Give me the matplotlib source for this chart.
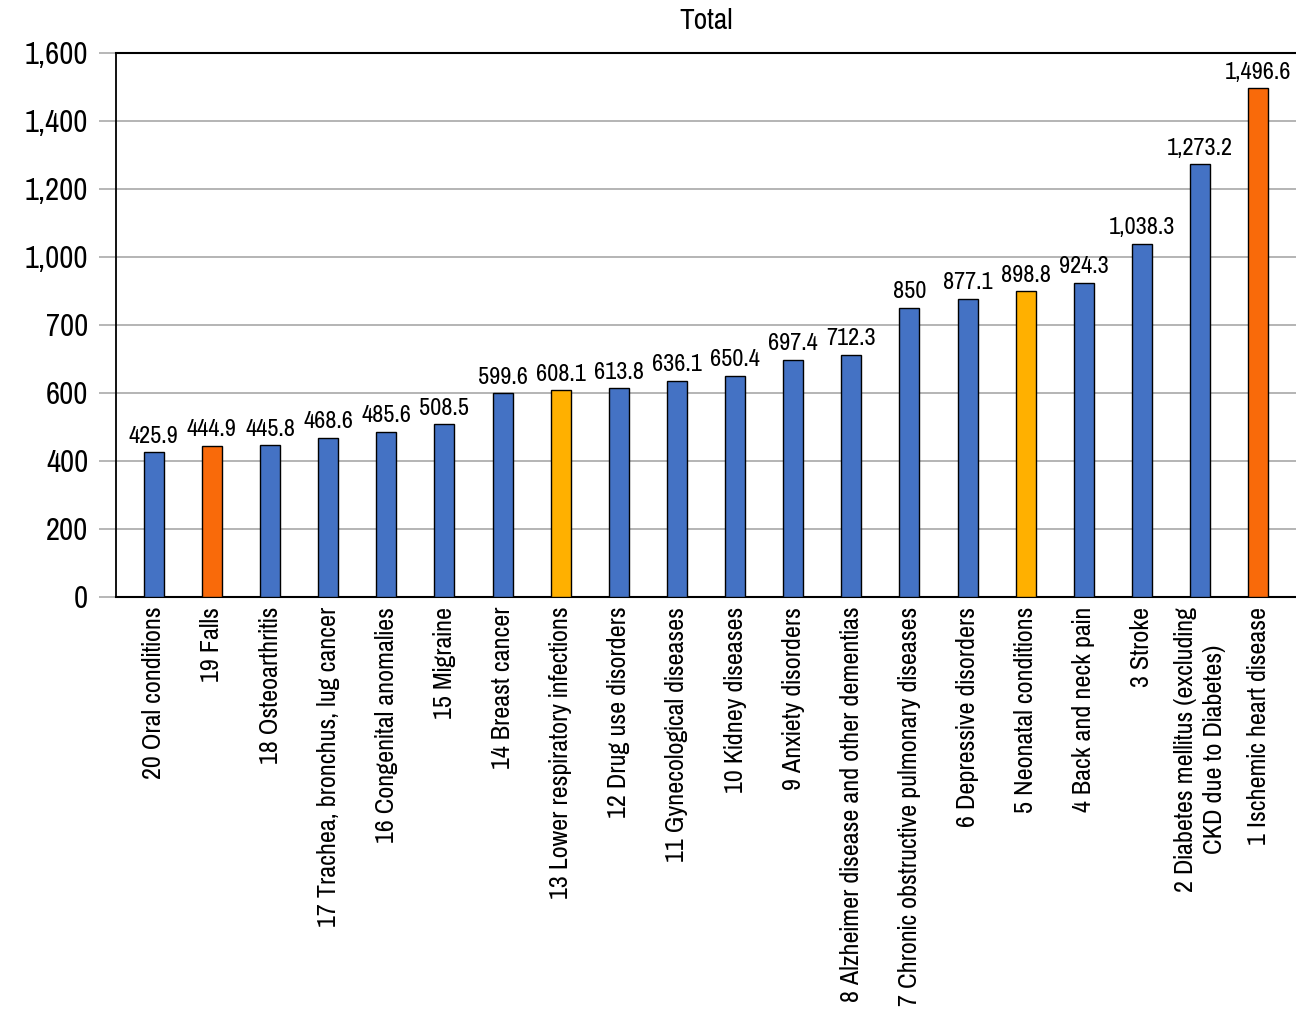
import matplotlib
matplotlib.use("Agg")
import matplotlib.pyplot as plt
from matplotlib import font_manager

names = {f.name for f in font_manager.fontManager.ttflist}
preferred = ['Nimbus Sans Narrow', 'Arial Narrow', 'Liberation Sans Narrow', 'Pragati Narrow',
             'Roboto Condensed', 'Archivo Narrow', 'IBM Plex Sans Condensed']
chosen = [n for n in preferred if n in names][:1]
plt.rcParams['font.family'] = chosen + ['DejaVu Sans']

categories = [
    "20 Oral conditions", "19 Falls", "18 Osteoarthritis",
    "17 Trachea, bronchus, lug cancer", "16 Congenital anomalies", "15 Migraine",
    "14 Breast cancer", "13 Lower respiratory infections", "12 Drug use disorders",
    "11 Gynecological diseases", "10 Kidney diseases", "9 Anxiety disorders",
    "8 Alzheimer disease and other dementias", "7 Chronic obstructive pulmonary diseases",
    "6 Depressive disorders", "5 Neonatal conditions", "4 Back and neck pain",
    "3 Stroke", "2 Diabetes mellitus (excluding\nCKD due to Diabetes)", "1 Ischemic heart disease",
]
values = [425.9, 444.9, 445.8, 468.6, 485.6, 508.5, 599.6, 608.1, 613.8, 636.1,
          650.4, 697.4, 712.3, 850, 877.1, 898.8, 924.3, 1038.3, 1273.2, 1496.6]
value_labels = ["425.9", "444.9", "445.8", "468.6", "485.6", "508.5", "599.6", "608.1",
                "613.8", "636.1", "650.4", "697.4", "712.3", "850", "877.1", "898.8",
                "924.3", "1,038.3", "1,273.2", "1,496.6"]
groups = ["b", "o", "b", "b", "b", "b", "b", "y", "b", "b",
          "b", "b", "b", "b", "b", "y", "b", "b", "b", "o"]
ytick_values = [0, 200, 400, 600, 800, 1000, 1200, 1400, 1600]
ytick_labels = ["0", "200", "400", "600", "700", "1,000", "1,200", "1,400", "1,600"]
title = "Total"

palette = {"b": "#4472C4", "o": "#F96A0A", "y": "#FFB000"}

fig = plt.figure(figsize=(12.96, 10.24), dpi=100)
ax = fig.add_axes([116/1296, 1 - 597/1024, 1 - 116/1296, (597 - 53)/1024])

x = list(range(len(categories)))
ax.bar(x, values, width=0.345, color=[palette[g] for g in groups],
       edgecolor="black", linewidth=1.0, zorder=3)
for xi, v, lab in zip(x, values, value_labels):
    ax.annotate(lab, (xi, v), xytext=(0, 4), textcoords="offset points",
                ha="center", va="bottom", fontsize=19)

ax.set_xlim(-0.65, len(categories) - 0.35)
ax.set_ylim(0, 1600)
ax.set_yticks(ytick_values)
ax.set_yticklabels(ytick_labels, fontsize=24)
ax.set_xticks(x)
ax.set_xticklabels(categories, rotation=90, fontsize=20.5, ha="center", va="top",
                   multialignment="center", linespacing=1.3)
ax.tick_params(axis="x", length=0, pad=7)
ax.tick_params(axis="y", length=12, width=1.2, color="#aaaaaa", pad=8)
ax.grid(axis="y", color="#b4b4b4", linewidth=1.4, zorder=0)
ax.spines["right"].set_visible(False)
ax.spines["left"].set_linewidth(1.3)
ax.spines["bottom"].set_linewidth(1.5)
ax.spines["top"].set_linewidth(1.5)
ax.set_title(title, fontsize=23, pad=17)

fig.savefig("out.png", dpi=100)
